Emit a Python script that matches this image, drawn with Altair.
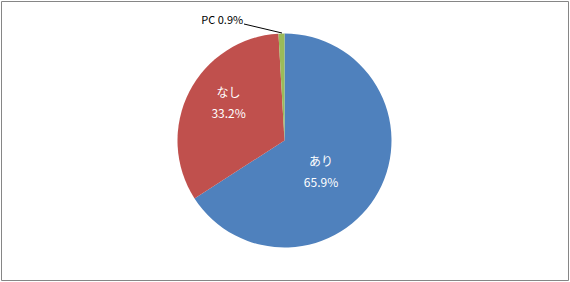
import altair as alt
import pandas as pd
import math

categories = ["あり", "なし", "PC"]
values = [65.9, 33.2, 0.9]
labels = ["あり\n65.9%", "なし\n33.2%", "PC 0.9%"]
colors = ["#4F81BD", "#C0504D", "#9BBB59"]
order = [0, 1, 2]

df = pd.DataFrame({"cat": categories, "val": values, "label": labels, "ord": order})

FONT = "Noto Sans CJK JP"
R = 107

tscale = alt.Scale(domain=[0, 100], range=[0, 2 * math.pi])

base = alt.Chart(df).transform_window(
    cum="sum(val)", sort=[alt.SortField("ord", order="ascending")]
).transform_calculate(
    start="datum.cum - datum.val",
    mid="datum.cum - datum.val / 2",
)

pie = base.mark_arc(outerRadius=R, stroke=None).encode(
    theta=alt.Theta("start:Q", scale=tscale),
    theta2="cum:Q",
    color=alt.Color("cat:N", scale=alt.Scale(domain=categories, range=colors), legend=None),
)

def lab(cat, radius, dx, dy, size, color, align="center"):
    return base.transform_filter(alt.datum.cat == cat).mark_text(
        radius=radius, dx=dx, dy=dy, font=FONT, fontSize=size, color=color,
        lineBreak="\n", lineHeight=21, align=align, baseline="middle"
    ).encode(theta=alt.Theta("mid:Q", scale=tscale), text="label:N")

lab_ari = lab("あり", 45, -3, 0, 12, "white")
lab_nashi = lab("なし", 65, 2, -18, 12, "white")
lab_pc = lab("PC", 118, -38, -2, 11, "black", align="right")

leader = alt.Chart(df).transform_filter(alt.datum.cat == "PC").mark_rule(
    color="black", strokeWidth=1
).encode(
    x=alt.value(243), y=alt.value(23), x2=alt.value(281), y2=alt.value(32)
)

chart = alt.layer(pie, lab_ari, lab_nashi, lab_pc, leader).properties(
    width=567, height=279,
    padding={"left": 1, "top": 1, "right": 2, "bottom": 2},
    autosize=alt.AutoSizeParams(type="none"),
    background="white",
).configure_view(stroke="#868686", strokeWidth=1)

chart.save("out.html", embed_options={"renderer": "svg", "actions": False})
